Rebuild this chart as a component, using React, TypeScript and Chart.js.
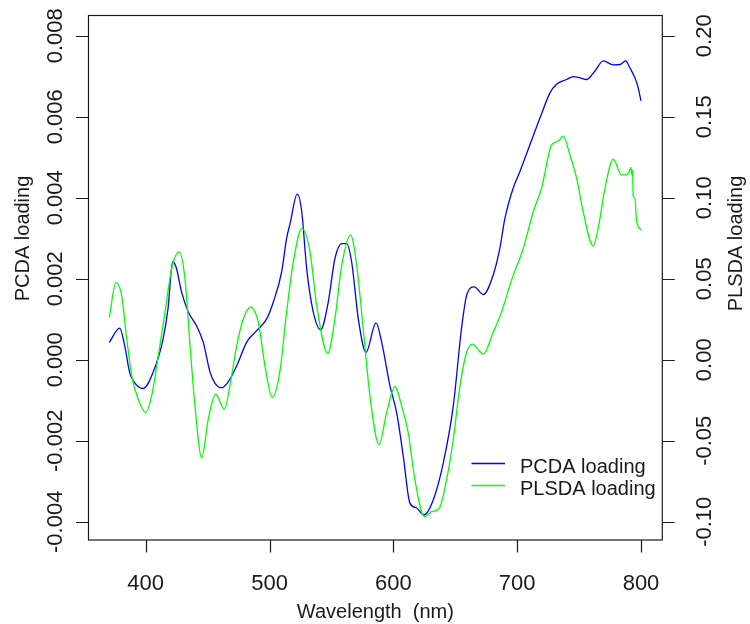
import { useEffect, useRef } from 'react';
import Chart from 'chart.js/auto';

// ---- data ----
const pcdaWavelength = [
  370.6, 379, 383, 387, 390, 398, 406, 414, 418, 421.8, 424.5, 429, 434.4, 441, 446.5, 452, 456,
  461.4, 468, 473.5, 481.5, 489.6, 497.7, 503, 509.8, 513.8, 516.5, 522.4, 526, 530, 535.3, 541.3,
  547.4, 552.8, 558.3, 562.3, 566.3, 571.7, 577.9, 586, 590.6, 597.3, 602.7, 608, 613.4, 618.8,
  624.7, 632.2, 640.3, 648.4, 655, 659.2, 665.3, 672.6, 680.7, 686, 690.1, 696.8, 702.2, 710.3,
  718.4, 726.5, 731.8, 739.9, 745.3, 750.7, 756.1, 762.8, 769.5, 777.6, 783, 787.6, 791, 795.1,
  797.7, 800,
];
const pcdaLoading = [
  0.00043, 0.00078, 0.00035, -0.00031, -0.00052, -0.00071, -0.00031, 0.00051, 0.00126, 0.00242,
  0.00229, 0.00167, 0.00118, 0.00084, 0.00043, -0.00031, -0.00058, -0.00069, -0.00048, -0.00015,
  0.00043, 0.00072, 0.00101, 0.00142, 0.00217, 0.003, 0.00335, 0.00409, 0.00366, 0.00225, 0.00118,
  0.00074, 0.00142, 0.0025, 0.00287, 0.00287, 0.00242, 0.00101, 0.00018, 0.00091, 0.00043,
  -0.00065, -0.00131, -0.00238, -0.00354, -0.00366, -0.00383, -0.00346, -0.00255, -0.00114,
  0.00076, 0.00159, 0.0018, 0.00161, 0.0021, 0.00275, 0.00349, 0.00424, 0.00465, 0.00531, 0.00597,
  0.00659, 0.0068, 0.00692, 0.00699, 0.00696, 0.00692, 0.00713, 0.00738, 0.00728, 0.00729,
  0.00738, 0.00721, 0.00696, 0.00672, 0.00639,
];

const plsdaWavelength = [
  370.6, 376, 380.6, 384.7, 388.7, 394, 400, 404.8, 410.2, 415.6, 421, 427.1, 431.7, 435.8, 439.8,
  445.2, 450.5, 456.5, 463.5, 468, 473.5, 478.8, 484.8, 490.9, 496.3, 502.2, 508.4, 513.8, 519.2,
  526.2, 532.7, 538.1, 547, 552.8, 558.3, 565.5, 570.4, 575.7, 581.1, 588.4, 594.6, 601.3, 606.7,
  612, 617.4, 625, 630.9, 637.1, 643, 648.4, 653.8, 659.2, 664, 669.4, 672.6, 680.7, 687.4, 694.1,
  696.8, 704.9, 713, 719.7, 727.8, 733.1, 737.2, 742.6, 748, 753.3, 761.4, 765.4, 770.9, 777.6,
  784.3, 788.4, 790.5, 791.9, 792.7, 793.2, 793.7, 795.1, 796.4, 800,
];
const plsdaLoading = [
  0.0263, 0.0476, 0.0397, 0.0128, -0.0099, -0.0244, -0.0326, -0.0223, 0.0025, 0.0294, 0.0563,
  0.0666, 0.0501, 0.0087, -0.0285, -0.0605, -0.0368, -0.0213, -0.0306, -0.0161, 0.0087, 0.0252,
  0.0325, 0.0232, -0.0037, -0.0233, -0.007, 0.0294, 0.0604, 0.0811, 0.0666, 0.0335, 0.004, 0.0252,
  0.0583, 0.0769, 0.0583, 0.019, -0.0223, -0.0523, -0.0326, -0.0165, -0.0285, -0.045, -0.074,
  -0.0968, -0.0937, -0.0916, -0.074, -0.0492, -0.0161, 0.0046, 0.0097, 0.0056, 0.0035, 0.017,
  0.0294, 0.0459, 0.0521, 0.0687, 0.0914, 0.1059, 0.1327, 0.1349, 0.138, 0.1265, 0.1121, 0.0914,
  0.0703, 0.0811, 0.1059, 0.1239, 0.1141, 0.1141, 0.1162, 0.1187, 0.1141, 0.1172, 0.1007, 0.0997,
  0.0862, 0.08,
];

const xTicks = [400, 500, 600, 700, 800];
const leftTicks = [-0.004, -0.002, 0.0, 0.002, 0.004, 0.006, 0.008];
const leftTickLabels = ['-0.004', '-0.002', '0.000', '0.002', '0.004', '0.006', '0.008'];
const rightTicks = [-0.1, -0.05, 0.0, 0.05, 0.1, 0.15, 0.2];
const rightTickLabels = ['-0.10', '-0.05', '0.00', '0.05', '0.10', '0.15', '0.20'];

const seriesNames = ['PCDA loading', 'PLSDA loading'];
const seriesColors = ['#0000ff', '#00ff00'];
const xTitle = 'Wavelength  (nm)';
const leftTitle = 'PCDA loading';
const rightTitle = 'PLSDA loading';

const FONT = "'Liberation Sans', Arial, sans-serif";
const INK = '#1a1a1a';

const rAxesPlugin = {
  id: 'rAxes',
  afterDraw(chart: any) {
    const { ctx, chartArea: a, scales } = chart;
    const sx = scales.x;
    const sy = scales.y;
    const sy2 = scales.y2;
    ctx.save();
    ctx.strokeStyle = INK;
    ctx.fillStyle = INK;
    ctx.lineWidth = 1.2;
    // box
    ctx.strokeRect(a.left, a.top, a.right - a.left, a.bottom - a.top);
    const tl = 12.5;
    // x ticks
    ctx.beginPath();
    xTicks.forEach((v) => {
      const px = Math.round(sx.getPixelForValue(v)) + 0.5;
      ctx.moveTo(px, a.bottom);
      ctx.lineTo(px, a.bottom + tl);
    });
    leftTicks.forEach((v) => {
      const py = Math.round(sy.getPixelForValue(v)) + 0.5;
      ctx.moveTo(a.left, py);
      ctx.lineTo(a.left - tl, py);
    });
    rightTicks.forEach((v) => {
      const py = Math.round(sy2.getPixelForValue(v)) + 0.5;
      ctx.moveTo(a.right, py);
      ctx.lineTo(a.right + tl, py);
    });
    ctx.stroke();

    // x tick labels
    ctx.font = `22px ${FONT}`;
    ctx.textAlign = 'center';
    ctx.textBaseline = 'alphabetic';
    xTicks.forEach((v) => {
      ctx.fillText(String(v), sx.getPixelForValue(v), 590);
    });
    // left tick labels (rotated)
    leftTicks.forEach((v, i) => {
      ctx.save();
      ctx.translate(61.5, sy.getPixelForValue(v));
      ctx.rotate(-Math.PI / 2);
      ctx.fillText(leftTickLabels[i], 0, 0);
      ctx.restore();
    });
    rightTicks.forEach((v, i) => {
      ctx.save();
      ctx.translate(711, sy2.getPixelForValue(v));
      ctx.rotate(-Math.PI / 2);
      ctx.fillText(rightTickLabels[i], 0, 0);
      ctx.restore();
    });

    // titles
    ctx.font = `20px ${FONT}`;
    ctx.fillText(xTitle, (a.left + a.right) / 2, 618);
    ctx.save();
    ctx.translate(28.5, 238.5);
    ctx.rotate(-Math.PI / 2);
    ctx.fillText(leftTitle, 0, 0);
    ctx.restore();
    ctx.save();
    ctx.translate(741.5, 243.5);
    ctx.rotate(-Math.PI / 2);
    ctx.fillText(rightTitle, 0, 0);
    ctx.restore();

    // legend
    const legY = [463.5, 485.5];
    chart.data.datasets.forEach((ds: any, i: number) => {
      ctx.strokeStyle = ds.borderColor;
      ctx.lineWidth = 1.3;
      ctx.beginPath();
      ctx.moveTo(471.5, legY[i]);
      ctx.lineTo(505, legY[i]);
      ctx.stroke();
      ctx.fillStyle = INK;
      ctx.textAlign = 'left';
      ctx.fillText(ds.label, 520, legY[i] + 9);
    });
    ctx.restore();
  },
};

export default function App() {
  const ref = useRef<HTMLCanvasElement | null>(null);
  useEffect(() => {
    if (!ref.current) return;
    const chart = new Chart(ref.current, {
      type: 'line',
      data: {
        datasets: [
          {
            label: seriesNames[0],
            data: pcdaWavelength.map((x, i) => ({ x, y: pcdaLoading[i] })),
            borderColor: seriesColors[0],
            backgroundColor: seriesColors[0],
            borderWidth: 1.3,
            pointRadius: 0,
            cubicInterpolationMode: 'monotone',
            yAxisID: 'y',
            order: 1,
          },
          {
            label: seriesNames[1],
            data: plsdaWavelength.map((x, i) => ({ x, y: plsdaLoading[i] })),
            borderColor: seriesColors[1],
            backgroundColor: seriesColors[1],
            borderWidth: 1.3,
            pointRadius: 0,
            cubicInterpolationMode: 'monotone',
            yAxisID: 'y2',
            order: 0,
          },
        ],
      },
      options: {
        responsive: false,
        animation: false,
        devicePixelRatio: 1,
        layout: { padding: { left: 88.5, top: 15.5, right: 87.7, bottom: 84 } },
        plugins: { legend: { display: false }, tooltip: { enabled: false } },
        events: [],
        scales: {
          x: { type: 'linear', min: 353.8, max: 817.2, display: false },
          y: { type: 'linear', position: 'left', min: -0.00445, max: 0.0085, display: false },
          y2: { type: 'linear', position: 'right', min: -0.11125, max: 0.2125, display: false },
        },
      },
      plugins: [rAxesPlugin],
    } as any);
    return () => chart.destroy();
  }, []);
  return (
    <div style={{ position: 'absolute', left: 0, top: 0, width: 750, height: 624, background: '#fff' }}>
      <canvas ref={ref} width={750} height={624} style={{ display: 'block' }} />
    </div>
  );
}
